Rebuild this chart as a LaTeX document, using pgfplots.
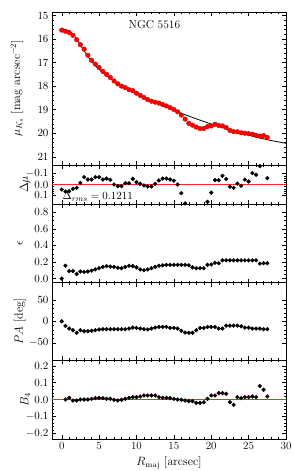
\documentclass[border=0pt]{standalone}
\usepackage{pgfplots}
\usepackage{pgfplotstable}
\pgfplotsset{compat=1.18}

\pgfplotstableread{
x mu dmu eps pa b4
0.0 15.62 0.046 0.00 0 nan
0.5 15.67 0.065 0.155 -10.7 0.000
1.0 15.72 0.062 0.09 -16.8 0.010
1.5 15.84 0.040 0.09 -20.6 -0.006
2.0 16.03 0.031 0.055 -26.7 -0.006
2.5 16.24 -0.015 0.085 -20.6 0.000
3.0 16.43 -0.068 0.08 -23 0.000
3.5 16.69 -0.046 0.085 -23 0.000
4.0 16.90 -0.046 0.095 -22 0.004
4.5 17.06 -0.068 0.11 -20.6 0.008
5.0 17.21 -0.068 0.125 -19 0.010
5.5 17.37 -0.046 0.14 -18.3 0.008
6.0 17.50 -0.055 0.15 -18.3 0.004
6.5 17.63 -0.043 0.145 -18.3 0.004
7.0 17.78 0.000 0.14 -18.3 -0.002
7.5 17.90 0.015 0.13 -18.3 -0.006
8.0 18.00 0.015 0.125 -18.3 -0.002
8.5 18.06 -0.012 0.14 -18.3 0.004
9.0 18.15 -0.012 0.155 -16.8 0.010
9.5 18.19 -0.052 0.15 -14.5 0.014
10.0 18.30 -0.022 0.135 -15.3 0.014
10.5 18.39 -0.006 0.11 -16.8 0.018
11.0 18.48 0.009 0.10 -18.3 0.024
11.5 18.57 0.018 0.11 -19 0.024
12.0 18.64 0.018 0.125 -16.8 0.024
12.5 18.68 -0.006 0.14 -14.5 0.024
13.0 18.72 -0.037 0.155 -13 0.014
13.5 18.78 -0.055 0.16 -13 0.010
14.0 18.84 -0.055 0.165 -13 0.010
14.5 18.91 -0.046 0.165 -15.3 0.008
15.0 18.99 -0.035 0.165 -15.3 0.004
15.5 19.09 0.000 0.165 -16.8 0.000
16.0 19.23 0.080 0.165 -22 -0.002
16.5 19.40 0.175 0.165 -26 -0.006
17.0 19.58 nan 0.16 -26.7 -0.010
17.5 19.66 nan 0.135 -26.7 -0.010
18.0 19.74 nan 0.125 -20.6 -0.020
18.5 19.80 nan 0.125 -15.3 -0.020
19.0 19.80 nan 0.125 -15.3 -0.016
19.5 19.72 0.160 0.165 -13 0.004
20.0 19.69 0.075 0.17 -13 0.024
20.5 19.62 -0.040 0.19 -13 0.024
21.0 19.67 -0.040 0.185 -16.8 0.038
21.5 19.69 -0.080 0.22 -16.8 0.038
22.0 19.76 -0.050 0.22 -10 0.034
22.5 19.88 0.020 0.22 -10 -0.016
23.0 19.93 0.031 0.22 -10 -0.032
23.5 19.94 -0.008 0.22 -10 0.014
24.0 19.98 0.012 0.22 -11.5 0.008
24.5 20.00 -0.045 0.22 -14.5 0.014
25.0 20.02 -0.028 0.22 -14.5 0.014
25.5 20.04 -0.105 0.22 -16.8 0.018
26.0 20.09 -0.090 0.22 -16.8 0.014
26.5 20.12 -0.170 0.18 -16.8 0.080
27.0 20.10 nan 0.185 -18.3 0.058
27.5 20.18 -0.058 0.185 -18.3 0.018
}\data

\pgfplotstableread{
x m
0.0 15.57
0.5 15.60
1.0 15.66
1.5 15.80
2.0 16.00
2.5 16.25
3.0 16.50
3.5 16.74
4.0 16.95
4.5 17.13
5.0 17.28
5.5 17.42
6.0 17.55
6.5 17.67
7.0 17.78
7.5 17.88
8.0 17.98
8.5 18.07
9.0 18.16
9.5 18.24
10 18.32
11 18.47
12 18.62
13 18.76
14 18.89
15 19.02
16 19.15
17 19.27
18 19.39
19 19.50
20 19.61
21 19.71
22 19.81
23 19.91
24 20.00
25 20.08
26 20.16
27 20.24
28 20.31
29 20.37
30 20.43
}\model

\pgfplotsset{
  panel/.style={
    scale only axis, width=234pt, xmin=-1.3, xmax=30,
    xtick={0,5,...,30}, minor x tick num=4, xticklabels={},
    major tick length=4pt, minor tick length=2pt,
    every tick/.style={black, line width=0.4pt},
    tick align=inside, anchor=south west,
    ylabel style={anchor=center},
    tick label style={font=\fontsize{11}{12}\selectfont},
    label style={font=\fontsize{12}{13}\selectfont},
    clip marker paths=false,
  },
  blk/.style={only marks, mark=*, mark size=1.9pt, mark options={fill=black, draw=black}},
  zeroline/.style={red!85!white, line width=0.9pt},
}

\begin{document}
\begin{tikzpicture}
\path[use as bounding box] (0,0) rectangle (293pt,471pt);

% panel 1
\begin{axis}[panel, at={(52pt,306pt)}, height=153pt,
  y dir=reverse, ymin=14.85, ymax=21.35, ytick={15,16,...,21}, minor y tick num=4,
  ylabel={$\mu_{K_s}$ [mag arcsec$^{-2}$]},
  ylabel style={at={(axis description cs:-0.15,0.5)}}]
\addplot[only marks, mark=*, mark size=2.3pt, mark options={fill=red, draw=red!85!black}] table[x=x, y=mu] {\data};
\addplot[black, line width=0.8pt, smooth] table[x=x, y=m] {\model};
\node[font=\fontsize{11.5}{12}\selectfont] at (axis cs:12.4,15.38) {NGC 5516};
\end{axis}

% panel 2
\begin{axis}[panel, at={(52pt,267pt)}, height=39pt,
  y dir=reverse, ymin=-0.18, ymax=0.18, ytick={-0.1,0,0.1}, minor y tick num=4,
  yticklabel style={/pgf/number format/fixed, /pgf/number format/fixed zerofill, /pgf/number format/precision=1},
  ylabel={$\Delta\mu$},
  ylabel style={at={(axis description cs:-0.115,0.5)}}]
\addplot[zeroline] coordinates {(-1.3,0) (30,0)};
\addplot[blk] table[x=x, y=dmu] {\data};
\node[anchor=west, inner sep=0pt, font=\fontsize{11}{12}\selectfont] at (axis cs:0.1,0.115) {$\Delta_{rms}=0.1211$};
\end{axis}

% panel 3
\begin{axis}[panel, at={(52pt,188.3pt)}, height=78.7pt,
  ymin=-0.05, ymax=0.9, ytick={0,0.2,0.4,0.6,0.8}, minor y tick num=3,
  yticklabel style={/pgf/number format/fixed, /pgf/number format/fixed zerofill, /pgf/number format/precision=1},
  ylabel={$\epsilon$},
  ylabel style={at={(axis description cs:-0.137,0.5)}}]
\addplot[blk] table[x=x, y=eps] {\data};
\end{axis}

% panel 4
\begin{axis}[panel, at={(52pt,111pt)}, height=77.3pt,
  ymin=-90, ymax=90, ytick={-50,0,50}, minor y tick num=4,
  ylabel={$PA$ [deg]},
  ylabel style={at={(axis description cs:-0.137,0.5)}}]
\addplot[blk] table[x=x, y=pa] {\data};
\end{axis}

% panel 5
\begin{axis}[panel, at={(52pt,32pt)}, height=79pt,
  ymin=-0.235, ymax=0.235, ytick={-0.2,-0.1,0,0.1,0.2}, minor y tick num=4,
  yticklabel style={/pgf/number format/fixed, /pgf/number format/fixed zerofill, /pgf/number format/precision=1},
  xticklabels={0,5,10,15,20,25,30},
  xlabel={$R_{\rm maj}$ [arcsec]},
  ylabel={$B_4$},
  ylabel style={at={(axis description cs:-0.115,0.5)}}]
\addplot[zeroline] coordinates {(-1.3,0) (30,0)};
\addplot[blk] table[x=x, y=b4] {\data};
\end{axis}
\end{tikzpicture}
\end{document}
